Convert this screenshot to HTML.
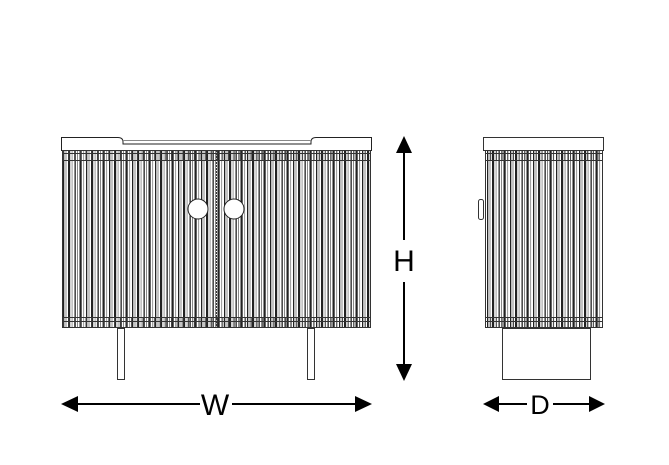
<!DOCTYPE html>
<html><head><meta charset="utf-8"><style>
html,body{margin:0;padding:0;background:#fff;width:669px;height:465px;overflow:hidden}
svg{display:block}
</style></head><body>
<svg width="669" height="465" viewBox="0 0 669 465" xmlns="http://www.w3.org/2000/svg">
<defs>
<pattern id="sl" x="63" y="0" width="11.5" height="10" patternUnits="userSpaceOnUse">
<rect x="0" y="0" width="1.3" height="10" fill="#222"/>
<rect x="2.5" y="0" width="1" height="10" fill="#888"/>
<rect x="5" y="0" width="2.2" height="10" fill="#222"/>
<rect x="8.6" y="0" width="1" height="10" fill="#999"/>
</pattern>
<pattern id="sl2" x="487" y="0" width="11.5" height="10" patternUnits="userSpaceOnUse">
<rect x="0" y="0" width="1.3" height="10" fill="#222"/>
<rect x="2.5" y="0" width="1" height="10" fill="#888"/>
<rect x="5" y="0" width="2.2" height="10" fill="#222"/>
<rect x="8.6" y="0" width="1" height="10" fill="#999"/>
</pattern>
<pattern id="band" x="0" y="0" width="5.7" height="10" patternUnits="userSpaceOnUse">
<rect x="0" y="0" width="1" height="10" fill="#444"/>
</pattern>
</defs>
<g stroke="#222" fill="none" stroke-width="1">
<!-- front top -->
<path d="M61.5 150.5 V137.5 H118 Q123 137.5 123 142 V144 H311 V142 Q311 137.5 316 137.5 H371.5 V150.5 Z" fill="#fff"/>
<line x1="123" y1="140.5" x2="311" y2="140.5" stroke="#888"/>
</g>
<!-- front body -->
<rect x="62" y="150" width="309" height="178" fill="url(#sl)"/>
<rect x="62" y="150" width="309" height="10" fill="url(#band)"/>
<rect x="62" y="318" width="309" height="10" fill="url(#band)"/>
<g stroke="#333" fill="none">
<rect x="62.5" y="150.5" width="308" height="177"/>
<line x1="62" y1="153.5" x2="371" y2="153.5"/>
<line x1="62" y1="160.5" x2="371" y2="160.5"/>
<line x1="62" y1="317.5" x2="371" y2="317.5"/>
<line x1="62" y1="321.5" x2="371" y2="321.5"/>
<line x1="216.5" y1="150" x2="216.5" y2="328" stroke-dasharray="2 1"/>
</g>
<circle cx="198" cy="209" r="10" fill="#fff" stroke="#222"/>
<circle cx="234" cy="209" r="10" fill="#fff" stroke="#222"/>
<!-- legs -->
<rect x="117.5" y="328.5" width="7" height="51" fill="#fff" stroke="#333"/>
<rect x="307.5" y="328.5" width="7" height="51" fill="#fff" stroke="#333"/>
<!-- side -->
<rect x="483.5" y="137.5" width="120" height="13" fill="#fff" stroke="#333"/>
<rect x="485" y="150" width="118" height="178" fill="url(#sl2)"/>
<rect x="485" y="150" width="118" height="10" fill="url(#band)"/>
<rect x="485" y="318" width="118" height="10" fill="url(#band)"/>
<g stroke="#333" fill="none">
<rect x="485.5" y="150.5" width="117" height="177"/>
<line x1="485" y1="153.5" x2="603" y2="153.5"/>
<line x1="485" y1="160.5" x2="603" y2="160.5"/>
<line x1="485" y1="317.5" x2="603" y2="317.5"/>
<line x1="485" y1="321.5" x2="603" y2="321.5"/>
<rect x="478.5" y="199.5" width="5" height="20" rx="2" fill="#fff"/>
<rect x="502.5" y="328.5" width="88" height="51" fill="#fff"/>
</g>
<!-- dimension arrows -->
<g fill="#000" stroke="#000" stroke-width="2">
<line x1="70" y1="404" x2="200" y2="404"/>
<line x1="232" y1="404" x2="362" y2="404"/>
<line x1="404" y1="148" x2="404" y2="240"/>
<line x1="404" y1="282" x2="404" y2="370"/>
<line x1="492" y1="404" x2="527" y2="404"/>
<line x1="553" y1="404" x2="596" y2="404"/>
</g>
<g fill="#000">
<polygon points="61,404 78,396 78,412"/>
<polygon points="372,404 355,396 355,412"/>
<polygon points="404,136 396,153 412,153"/>
<polygon points="404,381 396,364 412,364"/>
<polygon points="483,404 499,396 499,412"/>
<polygon points="605,404 589,396 589,412"/>
</g>
<g font-family="Liberation Sans, sans-serif" font-size="30" fill="#000" text-anchor="middle">
<text x="215" y="415">W</text>
<text x="404" y="271">H</text>
<text x="540" y="414" font-size="27">D</text>
</g>
</svg>
</body></html>
